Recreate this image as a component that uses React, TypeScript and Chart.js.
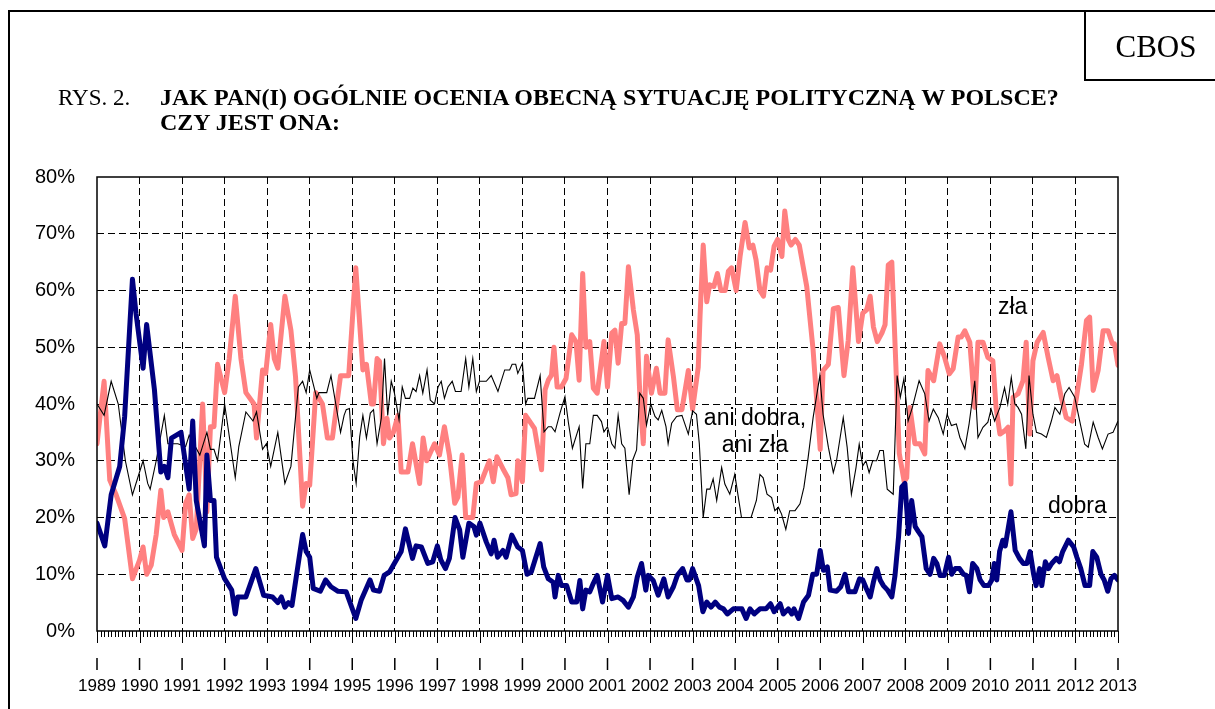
import React, { useEffect, useRef } from "react";
import { Chart, registerables } from "chart.js";

Chart.register(...registerables);

// x = months since January 1989, y = percent
const yearLabels = [
  "1989", "1990", "1991", "1992", "1993", "1994", "1995", "1996", "1997",
  "1998", "1999", "2000", "2001", "2002", "2003", "2004", "2005", "2006",
  "2007", "2008", "2009", "2010", "2011", "2012", "2013",
];
const percentMax = 80;
const percentStep = 10;

const dobra: [number, number][] = [
  [0, 19], [2.2, 15], [4, 24], [6.4, 29], [7.8, 37.8], [10, 62], [11, 56], [13, 46.3], [14, 54], [16.2, 42.5],
  [18, 28], [19, 29], [20, 27], [21, 34], [23.7, 35], [26, 25], [27, 37], [28, 23], [30.3, 15], [31, 31],
  [32, 23], [33, 23], [33.7, 13], [36, 9.2], [38, 7.2], [39, 3], [39.7, 6], [42, 6], [44.8, 11], [47, 6.3],
  [49.5, 6], [51, 5], [52, 6], [53, 4.2], [54, 5], [55, 4.5], [58, 17], [59, 14], [60, 13], [61, 7.5],
  [63, 7], [64.5, 9], [66, 7.8], [68, 7], [70.3, 6.9], [73, 2.2], [74.5, 5.4], [77, 9], [78, 7.2], [79.7, 7],
  [81, 9.8], [82.5, 10.4], [85.8, 14], [87, 18], [89, 12.8], [90, 15], [91.5, 14.8], [93.3, 11.9], [94.7, 12.2], [96, 15],
  [97, 12.5], [98.3, 11], [99.4, 12.8], [101, 20], [102.3, 17.8], [103.2, 13], [104.9, 19], [106.3, 18.4], [107, 16.9], [108, 19],
  [109.8, 15.7], [111.2, 13.6], [112, 16], [113, 13], [114.5, 14.2], [115.4, 13], [117, 16.9], [118.7, 14.8], [120, 14.2], [121.3, 10],
  [122.5, 10.4], [125, 15.4], [126, 11.3], [127.3, 9.2], [128.7, 8.6], [129.2, 6], [130.1, 9.8], [131, 8], [132.5, 8], [133.9, 5.1],
  [135.3, 5.1], [136.2, 8.9], [137, 3.9], [137.9, 7.2], [139, 6.9], [140, 8.4], [141.1, 9.8], [142.6, 5.1], [144, 9.8], [145.2, 5.7],
  [147, 6], [148.4, 5.4], [149.9, 4.2], [151.3, 6], [152.4, 9.5], [153.6, 11.9], [154.8, 7.2], [155.5, 9.8], [156.9, 8.9], [158.3, 6.3],
  [159.9, 9.2], [161.1, 6], [162.6, 7.8], [163.7, 9.8], [165.2, 11], [166.4, 9], [167.1, 9], [168, 11], [169.7, 8], [170.9, 3.4],
  [172, 5.1], [173.2, 4.2], [174.4, 5.1], [175.6, 4.2], [176.7, 3.9], [177.8, 3], [179.5, 3.9], [181.9, 3.9], [183.1, 2.2], [184.2, 3.9],
  [185.4, 3], [187, 3.9], [188.7, 3.9], [190, 4.8], [191, 3.4], [192.7, 4.8], [193.6, 3], [195, 3.9], [196, 3], [196.6, 3.9],
  [197.9, 2.2], [199.3, 5.1], [200.7, 6.3], [201.9, 10], [203, 10], [204, 14.2], [204.9, 10.7], [206, 11.3], [206.8, 7.2], [208.6, 7],
  [209.8, 7.8], [211, 10], [212, 6.9], [213.8, 6.9], [215.1, 9.2], [216, 9], [217, 7.5], [218.1, 6], [219, 8.6], [220, 11],
  [220.9, 9], [221.8, 8], [223, 7.2], [224.2, 6], [225.1, 9.8], [226.1, 16.6], [227, 25.4], [227.9, 26], [228.9, 17.2], [229.8, 23],
  [230.8, 18.4], [231.7, 17.5], [232.7, 16.6], [233.9, 11], [235, 10], [236, 12.8], [236.9, 11.9], [237.8, 9.8], [239, 9.8], [240.2, 13],
  [241.1, 10], [242.1, 11], [243.3, 11], [244.4, 10], [245.2, 9.8], [246.1, 6.9], [247, 11.9], [248.2, 11], [249.1, 9], [250.2, 8],
  [251.5, 8], [252.4, 9], [253.1, 11.9], [253.8, 9], [254.6, 14], [255.5, 16], [256.2, 15], [257.8, 21], [259, 14.2], [260.2, 12.8],
  [261.3, 11.9], [262.3, 11.9], [263.2, 14], [264.2, 10], [264.9, 8], [265.9, 11], [266.5, 8], [267.5, 12.2], [268.4, 11], [269.3, 11.9],
  [270.6, 12.8], [271.5, 12.2], [272.4, 14], [274, 16], [275.5, 14.8], [276.4, 13], [277.5, 11], [278.7, 8], [280, 8], [280.9, 14],
  [282, 13], [283.2, 10], [284.1, 9], [285.1, 7], [286, 9.2], [287, 9.8], [288, 9],
];

const zla: [number, number][] = [
  [0, 33], [2, 44], [3.6, 26.6], [5.4, 24], [7.8, 19.8], [10, 9.2], [12, 12.5], [13, 14.8], [14, 10], [15.3, 11.6],
  [16.7, 17], [18, 24.8], [18.8, 20], [20, 21], [21.8, 17], [24, 14.2], [25, 22.5], [26, 24], [27, 16.3], [28, 18],
  [29.8, 40], [31, 21], [32, 36], [33, 36], [34, 47], [36, 42], [37.3, 48], [39, 59], [40.6, 48], [42, 42],
  [44.3, 40], [45, 34], [46.7, 46], [47.6, 45.4], [49, 54], [50, 48], [51, 46.3], [53, 59], [54.7, 53], [56, 44.8],
  [58, 22], [59, 26], [60, 25.7], [61.7, 42], [63.6, 40], [65, 34], [66.4, 34], [68.7, 45], [71, 45], [73, 64],
  [75, 46], [76, 47], [77.4, 40], [78, 40], [79, 48], [79.7, 47.5], [80.8, 33], [81.8, 37.5], [82.5, 34], [83.6, 35],
  [84.9, 38], [85.8, 28], [87.7, 28], [89, 33], [91, 26], [92, 34], [93, 30], [95.2, 33], [96.6, 31], [98, 36],
  [99.4, 31], [100.9, 22.5], [101.8, 23.6], [103, 31], [104, 20], [106, 20], [107, 26], [108.4, 26.3], [110.7, 30], [111.8, 26.3],
  [112.8, 30.7], [114.5, 28.6], [115.9, 27], [116.8, 24], [118.2, 24.2], [118.7, 30], [120, 26.3], [120.9, 38], [123.4, 35.7], [125.4, 28.4],
  [126.4, 42.5], [127.3, 44.2], [128.2, 45.1], [128.9, 50], [129.8, 43], [131, 43], [132.3, 44.5], [133.9, 52.2], [135.1, 51], [136, 44.2],
  [137, 63], [137.9, 50], [139, 51], [140, 42.8], [141.1, 41.9], [143, 51], [144, 43], [145.2, 52.5], [146.1, 53], [147, 47.2],
  [148, 54.2], [148.9, 54.2], [149.9, 64.2], [151.3, 56.6], [152.4, 52.2], [153.1, 41.9], [154.1, 33], [155, 48.4], [156.4, 41.9], [157.8, 46.3],
  [158.8, 41.9], [160.2, 41.9], [161.1, 51.3], [162.6, 44.8], [163.7, 39], [165, 39], [166.8, 45.9], [168, 39.1], [169.6, 46.5], [170.1, 55.4],
  [171, 68], [172, 58], [172.8, 61], [174, 60.7], [175, 63], [176, 60], [177.2, 60], [178.1, 63.4], [179, 64], [180.3, 60],
  [181.4, 66], [182.8, 72], [184, 67.5], [185, 68], [185.9, 65.4], [187, 60], [188, 59], [189, 64], [190, 63.6], [191, 67.8],
  [192, 69], [193.2, 66], [194, 74], [195, 69], [195.8, 68], [197, 69], [198.1, 68], [200.2, 60.7], [202, 49.5], [204, 32],
  [204.8, 45.9], [206.3, 47], [207.7, 56.8], [209.1, 57], [210.7, 45], [211.9, 51.2], [213.2, 64], [214.8, 51], [216, 56], [217.1, 56.6],
  [218.1, 59], [219, 53.6], [220.1, 51], [221.4, 52.5], [222.3, 54], [223.2, 64.5], [224.2, 65], [225.1, 50.7], [226.3, 31.3], [227.7, 26.3],
  [228.4, 27], [229.3, 39.4], [230.7, 33], [232.1, 33], [233.5, 31.2], [234.4, 45.9], [236, 44.1], [237.7, 50.6], [239.1, 48.2], [240.4, 45.3],
  [241.5, 46.2], [242.9, 51.8], [243.8, 51.8], [244.8, 52.9], [246.2, 50.9], [247.6, 39.4], [248.5, 50.9], [249.9, 50.9], [251.3, 48.2], [252.7, 47.6],
  [253.6, 39.4], [254.7, 34.7], [256.1, 35.3], [257, 35.9], [257.8, 25.9], [258.4, 41.2], [259.8, 41.8], [261.2, 44.1], [262.1, 50.9], [263.1, 34.7],
  [264, 47.6], [265.2, 50.9], [266.9, 52.6], [268.3, 48.2], [269.7, 44.1], [270.8, 45], [272, 41.2], [273.4, 37.6], [275.1, 37], [276.3, 41.2],
  [277.7, 47], [279.1, 54.7], [280, 55.3], [281, 42.4], [282.4, 45.9], [283.8, 52.9], [285.2, 52.9], [286.4, 50.6], [287, 50.6], [288, 46.8],
];

const aniDobraAniZla: [number, number][] = [
  [0, 40], [2, 38], [4, 44], [6, 40], [8, 30], [10, 24], [11.5, 27], [13, 30], [14.3, 26], [15, 25],
  [16.7, 30], [19, 38], [20, 33], [22.8, 33], [25, 32.5], [26, 34.5], [29, 31], [31, 35], [32, 32], [33, 32],
  [34, 30], [36, 40], [39, 27], [40, 32.5], [42, 38.6], [44, 37], [45, 38.6], [46.7, 32], [47.8, 33], [49, 29],
  [51, 35], [53, 26], [54.7, 29], [56.8, 43], [58, 44], [59, 42], [60, 46], [62, 41], [62.6, 42], [64.8, 42],
  [66, 45], [68.7, 35], [69.7, 38], [70.3, 39], [71.2, 39.2], [72.2, 30], [73.1, 26], [74.1, 34.2], [75, 38], [76, 34],
  [77.1, 38.4], [78, 39], [79, 33], [80.2, 37.5], [81.1, 48], [82, 38], [83, 44], [83.9, 41.9], [85.2, 37.2], [86.1, 43],
  [87, 41], [88.2, 41], [89.1, 42.8], [90, 42.2], [91, 45], [91.9, 41.9], [93.1, 46], [94, 40.7], [95.2, 40], [96.2, 43],
  [97.1, 44], [98, 41], [99, 43], [100.2, 44], [101.1, 42.2], [102.7, 42.2], [104, 48], [104.9, 43], [106, 48], [107, 42.2],
  [107.9, 44], [109.8, 44], [111.2, 45], [113.1, 42.2], [115, 46], [116.4, 46], [117.1, 47], [118.1, 47], [118.7, 45.4], [120, 47.2],
  [120.9, 40], [121.5, 41], [123.4, 41], [125, 45], [126.1, 35.1], [127.3, 36], [128.2, 36], [129.2, 35.1], [130.6, 38.4], [132, 41.3],
  [133, 36.6], [134.1, 32.2], [136, 36], [137, 25.1], [137.9, 33], [139, 33], [140, 38], [141.1, 38], [142.3, 36.9], [143, 35.1],
  [144, 36], [145.2, 33], [146.1, 32.2], [147, 38], [148, 33], [148.9, 32.2], [150.1, 24], [151.1, 30.1], [152.2, 31.9], [153.1, 41.9],
  [154.1, 41], [155, 36.3], [156.2, 40], [157.4, 37.8], [158.3, 37.2], [159.3, 38.9], [160.5, 36], [161.1, 33], [162.1, 36.6], [163.5, 37.8],
  [165, 38], [166.8, 34.7], [168, 38.8], [169.1, 38.2], [169.9, 33], [171, 20], [172, 25], [172.9, 25], [173.8, 26.8], [174.8, 23],
  [176.2, 28.8], [177.1, 25.9], [178.5, 24.1], [179.9, 27.6], [181.8, 20], [182.8, 20], [184.5, 20], [186, 23], [187, 27.6], [187.9, 27],
  [189, 24.1], [190.3, 23.5], [191.2, 21.2], [192.2, 21.8], [193.1, 20.6], [194.3, 17.9], [195.4, 21.2], [196.9, 21.2], [198.3, 22.4], [199.4, 25.3],
  [200.6, 30.6], [202, 37.6], [203.9, 45], [204.8, 38.2], [206.3, 32.4], [207.7, 27.9], [208.6, 30], [210.5, 37.6], [211.6, 32.4], [212.8, 24.1],
  [214.1, 28.8], [215, 32.9], [216, 29.1], [216.9, 30], [217.8, 27.9], [218.8, 30], [219.9, 30], [220.8, 31.8], [221.8, 31.8], [222.9, 25],
  [224.6, 24.1], [225.7, 45], [226.6, 41.2], [227.6, 44.4], [228.8, 37], [230, 39.4], [231.9, 44.1], [233.5, 41.8], [234.7, 37], [235.9, 39.1],
  [237.3, 37.6], [238.7, 34.7], [239.8, 38.2], [241, 36.2], [242.4, 36.5], [243.4, 34.1], [244.8, 32.1], [246, 36.5], [247.6, 44.1], [248.5, 34.1],
  [249.9, 35.9], [251.3, 36.8], [252.2, 39.1], [253.2, 37], [254.7, 39.4], [256, 42.9], [256.9, 40], [257.9, 44.7], [258.9, 40], [259.8, 39.4],
  [260.8, 38.2], [262, 32.1], [262.9, 45], [264, 38.2], [265, 35], [266.4, 34.7], [267.8, 34.1], [269.2, 37], [270.2, 39.4], [271.6, 38.2],
  [273, 41.8], [274.2, 42.9], [275.8, 41.2], [277.2, 37], [278.6, 32.9], [279.6, 32.4], [281, 36.8], [282.4, 34.1], [283.6, 32.1], [285.2, 34.7],
  [286.6, 35], [288, 37],
];

const SANS = "'Liberation Sans', Arial, sans-serif";
const SERIF = "'Liberation Serif', 'Times New Roman', serif";

const lastMonth = (yearLabels.length - 1) * 12;

const axisDecor = {
  id: "axisDecor",
  afterDraw(chart: any) {
    const { ctx, chartArea: a, scales } = chart;
    const xs = scales.x;
    ctx.save();
    ctx.strokeStyle = "#000";
    ctx.lineWidth = 1;
    ctx.beginPath();
    for (let m = 0; m <= lastMonth; m++) {
      const x = Math.round(xs.getPixelForValue(m)) + 0.5;
      const len = m % 12 === 0 ? 12 : 6;
      ctx.moveTo(x, a.bottom);
      ctx.lineTo(x, a.bottom + len);
    }
    ctx.stroke();
    ctx.lineWidth = 1.5;
    ctx.beginPath();
    for (let i = 0; i < yearLabels.length; i++) {
      const x = xs.getPixelForValue(i * 12);
      ctx.moveTo(x, a.bottom + 27);
      ctx.lineTo(x, a.bottom + 39);
    }
    ctx.stroke();
    ctx.lineWidth = 1.5;
    ctx.strokeRect(a.left, a.top, a.right - a.left, a.bottom - a.top);
    ctx.restore();
  },
};

function Txt(props: {
  x: number; base: number; size: number; serif?: boolean; bold?: boolean;
  text: string; center?: boolean; ls?: number;
}) {
  const k = props.serif ? 0.8375 : 0.8465;
  const style: React.CSSProperties = {
    position: "absolute",
    top: props.base - k * props.size,
    fontFamily: props.serif ? SERIF : SANS,
    fontSize: props.size,
    lineHeight: props.size + "px",
    fontWeight: props.bold ? "bold" : "normal",
    whiteSpace: "nowrap",
    color: "#000",
    letterSpacing: props.ls ? props.ls + "px" : undefined,
  };
  if (props.center) {
    style.left = props.x - 150;
    style.width = 300;
    style.textAlign = "center";
  } else {
    style.left = props.x;
  }
  return <div style={style}>{props.text}</div>;
}

export default function App() {
  const ref = useRef<HTMLCanvasElement | null>(null);
  useEffect(() => {
    if (!ref.current) return;
    const toXY = (arr: [number, number][]) => arr.map(([x, y]) => ({ x, y }));
    const edgeColor = (c: any) =>
      c.tick && (c.tick.value === 0 || c.tick.value === c.scale.max) ? "rgba(0,0,0,0)" : "#000";
    const chart = new Chart(ref.current, {
      type: "line",
      data: {
        datasets: [
          {
            label: "dobra", data: toXY(dobra), borderColor: "#000080", backgroundColor: "#000080",
            borderWidth: 5, pointRadius: 0, tension: 0, borderJoinStyle: "round", borderCapStyle: "round",
          },
          {
            label: "ani dobra, ani zła", data: toXY(aniDobraAniZla), borderColor: "#000000", backgroundColor: "#000",
            borderWidth: 1.1, pointRadius: 0, tension: 0,
          },
          {
            label: "zła", data: toXY(zla), borderColor: "#FF8080", backgroundColor: "#FF8080",
            borderWidth: 5, pointRadius: 0, tension: 0, borderJoinStyle: "round", borderCapStyle: "round",
          },
        ],
      } as any,
      options: {
        animation: false,
        responsive: false,
        layout: { padding: { left: 0, right: 97, top: 177, bottom: 0 } },
        plugins: { legend: { display: false }, tooltip: { enabled: false } },
        scales: {
          x: {
            type: "linear", min: 0, max: lastMonth,
            afterFit: (s: any) => { s.height = 78; },
            ticks: {
              stepSize: 12, autoSkip: false, maxRotation: 0, padding: 45, color: "#000",
              font: { family: SANS, size: 17 },
              callback: (v: any) => yearLabels[Math.round(Number(v) / 12)] ?? "",
            },
            grid: { drawTicks: false, color: edgeColor, lineWidth: 1 },
            border: { display: false, dash: [7, 4] },
          },
          y: {
            min: 0, max: percentMax,
            afterFit: (s: any) => { s.width = 97; },
            ticks: {
              stepSize: percentStep, padding: 22, color: "#000",
              font: { family: SANS, size: 20 },
              callback: (v: any) => v + "%",
            },
            grid: { drawTicks: false, color: edgeColor, lineWidth: 1 },
            border: { display: false, dash: [7, 4] },
          },
        },
      } as any,
      plugins: [axisDecor],
    });
    return () => chart.destroy();
  }, []);

  return (
    <div style={{ position: "absolute", left: 0, top: 0, width: 1215, height: 709, background: "#fff", overflow: "hidden" }}>
      <canvas ref={ref} width={1215} height={709} style={{ position: "absolute", left: 0, top: 0, width: 1215, height: 709 }} />
      <div style={{ position: "absolute", left: 8, top: 10, width: 1207, height: 2, background: "#000" }} />
      <div style={{ position: "absolute", left: 8, top: 10, width: 2, height: 699, background: "#000" }} />
      <div style={{ position: "absolute", left: 1084, top: 10, width: 2, height: 71, background: "#000" }} />
      <div style={{ position: "absolute", left: 1084, top: 79, width: 131, height: 2, background: "#000" }} />
      <Txt x={1156} base={57} size={31} serif center text="CBOS" />
      <Txt x={58} base={105} size={23} serif text="RYS. 2." />
      <Txt x={160} base={105} size={24} serif bold text="JAK PAN(I) OGÓLNIE OCENIA OBECNĄ SYTUACJĘ POLITYCZNĄ W POLSCE?" />
      <Txt x={160} base={130} size={24} serif bold text="CZY JEST ONA:" />
      <Txt x={998} base={314} size={23} text="zła" />
      <Txt x={755} base={425} size={23} center text="ani dobra," />
      <Txt x={755} base={452} size={23} center text="ani zła" />
      <Txt x={1048} base={513} size={23} text="dobra" />
    </div>
  );
}
